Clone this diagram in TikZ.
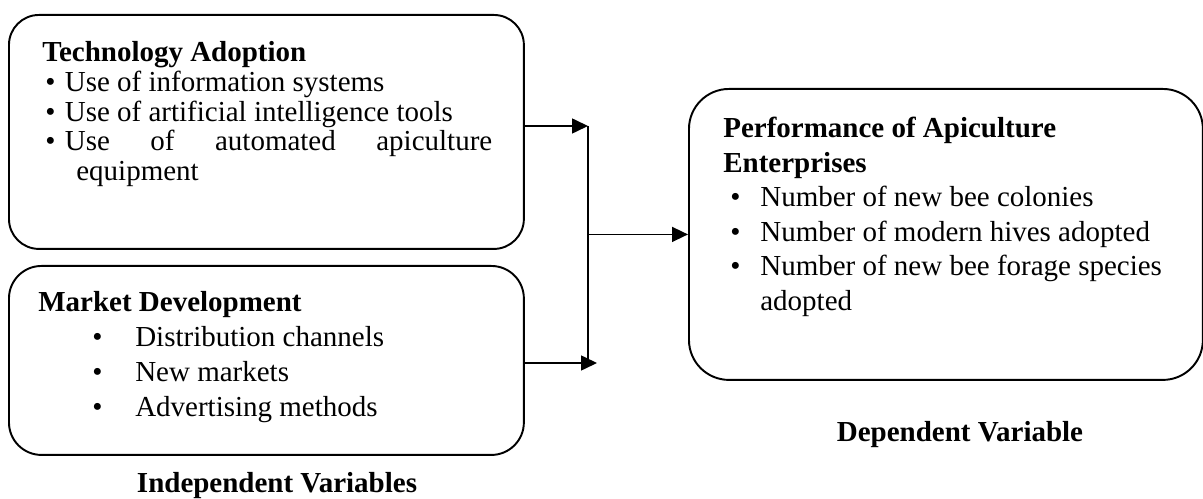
\documentclass[tikz,border=0pt]{standalone}
\usepackage{fontspec}
\setmainfont{Liberation Serif}
\usepackage{tikz}
\usetikzlibrary{positioning,arrows.meta}
\newcommand{\setlines}[1]{\fontsize{16.5}{#1}\selectfont}

\begin{document}
\begin{tikzpicture}[
  x=0.02cm, y=-0.02cm,
  box/.style={
    draw, line width=1.1pt, rounded corners=#1,
    anchor=north west, inner sep=0pt
  },
  flow/.style={-{Triangle[length=0.32cm,width=0.3cm]}, line width=0.9pt},
  txt/.style={anchor=base west, inner sep=0pt, font={\setlines{#1}}},
  lbl/.style={anchor=base, inner sep=0pt, font={\setlines{19pt}\bfseries}}
]
\useasboundingbox (0,0) rectangle (1203,499);

\node[box=0.6cm, minimum width=10.3cm, minimum height=4.68cm] (tech) at (8,14) {};
\node[box=0.65cm, minimum width=10.3cm, minimum height=3.78cm] (mkt) at (8,265) {};
\node[box=0.8cm, minimum width=10.28cm, minimum height=5.82cm] (perf) at (688,88) {};

\node[txt=16.8pt] (techtxt) at (42,62) {\begin{tabular}[t]{@{}l@{}}
\textbf{Technology Adoption}\\
\makebox[0.45cm][l]{\hspace{0.06cm}\textbullet}Use of information systems\\
\makebox[0.45cm][l]{\hspace{0.06cm}\textbullet}Use of artificial intelligence tools\\
\makebox[0.45cm][l]{\hspace{0.06cm}\textbullet}\makebox[8.55cm][s]{Use of automated apiculture}\\
\hspace*{0.68cm}equipment
\end{tabular}};

\node[txt=19.9pt] (mkttxt) at (38,312) {\begin{tabular}[t]{@{}l@{}}
\textbf{Market Development}\\
\hspace*{1.08cm}\makebox[0.86cm][l]{\textbullet}Distribution channels\\
\hspace*{1.08cm}\makebox[0.86cm][l]{\textbullet}New markets\\
\hspace*{1.08cm}\makebox[0.86cm][l]{\textbullet}Advertising methods
\end{tabular}};

\node[txt=19.6pt] (perftxt) at (723,138) {\begin{tabular}[t]{@{}l@{}}
\textbf{Performance of Apiculture}\\
\textbf{Enterprises}\\
\hspace*{0.14cm}\makebox[0.6cm][l]{\textbullet}Number of new bee colonies\\
\hspace*{0.14cm}\makebox[0.6cm][l]{\textbullet}Number of modern hives adopted\\
\hspace*{0.14cm}\makebox[0.6cm][l]{\textbullet}Number of new bee forage species\\
\hspace*{0.74cm}adopted
\end{tabular}};

\node[lbl] (indep) at (277,493) {Independent Variables};
\node[lbl] (dep) at (960,442) {Dependent Variable};

% connectors
\coordinate (jtop) at (588,126);
\coordinate (jbot) at (597,363);
\draw[flow] (tech.east |- jtop) -- (jtop);
\draw[flow] (mkt.east |- jbot) -- (jbot);
\draw[line width=0.9pt] (jtop) -- (jtop |- jbot);
\draw[flow] (jtop |- perf.west) -- (perf.west);
\end{tikzpicture}
\end{document}
